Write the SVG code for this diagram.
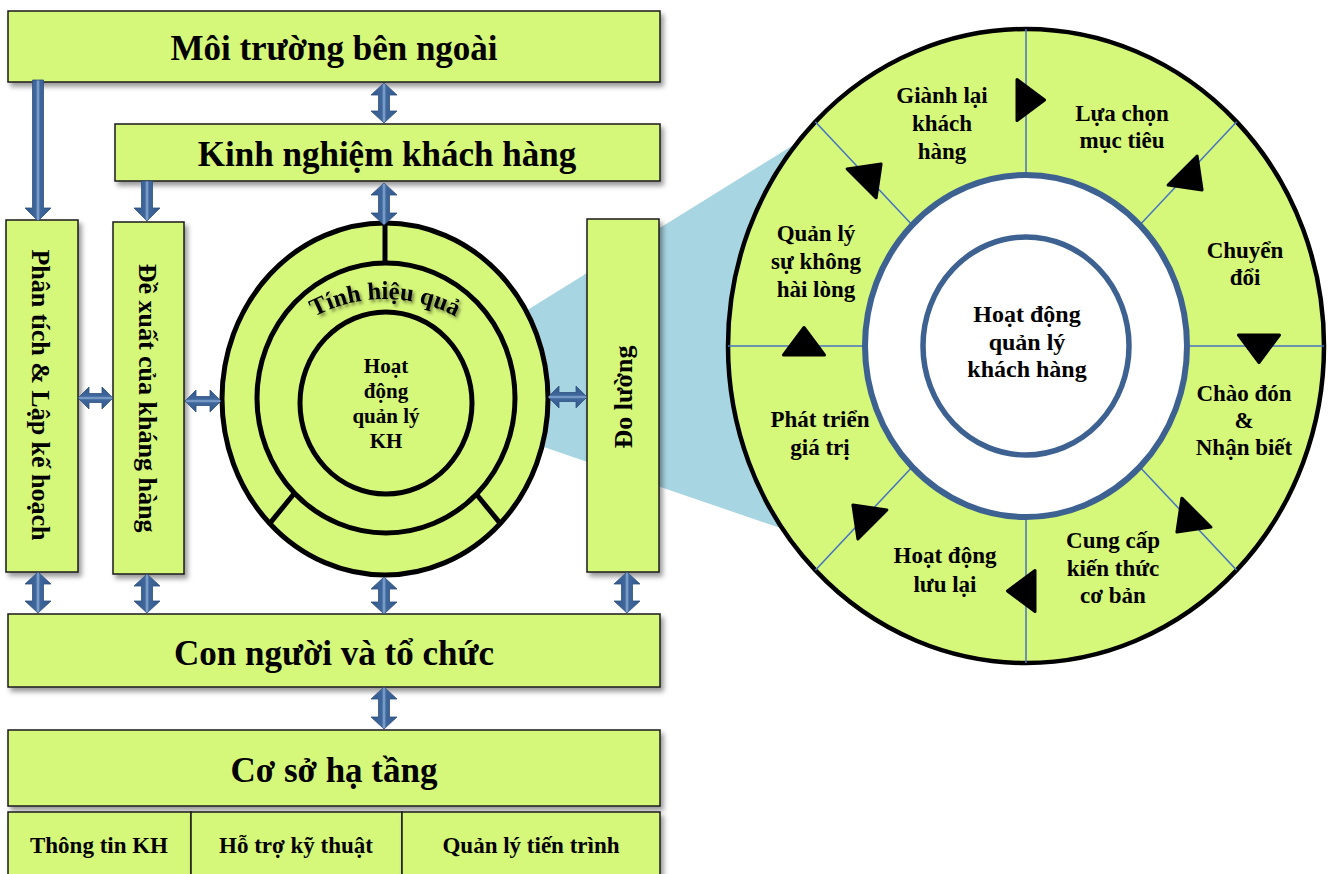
<svg xmlns="http://www.w3.org/2000/svg" xmlns:xlink="http://www.w3.org/1999/xlink" width="1331" height="874" viewBox="0 0 1331 874">
<defs>
<style>
.box{fill:#d5f77a;stroke:#1a1a1a;stroke-width:1.5;filter:url(#sh)}
.t{font-family:"Liberation Serif","Times New Roman",serif;font-weight:bold;fill:#000;text-anchor:middle}
.title{font-size:35px}
.vt{font-size:26px}
.lab{font-size:23px}
.cell{font-size:23px}
.ring{fill:#d5f77a;stroke:#000;stroke-width:5}
.div{stroke:#4472c4;stroke-width:1.5;fill:none}
.arrV{fill:url(#gV);stroke:#2e5082;stroke-width:0.8}
.arrH{fill:url(#gH);stroke:#2e5082;stroke-width:0.8}
.tri{fill:#000;stroke:#000;stroke-width:3;stroke-linejoin:round}
</style>
<filter id="sh" x="-10%" y="-10%" width="130%" height="130%">
<feDropShadow dx="3" dy="4" stdDeviation="2.5" flood-color="#000" flood-opacity="0.4"/>
</filter>
<filter id="tsh" x="-20%" y="-40%" width="140%" height="180%">
<feDropShadow dx="2" dy="2.5" stdDeviation="1.8" flood-color="#000" flood-opacity="0.45"/>
</filter>
<linearGradient id="gV" x1="0" y1="0" x2="1" y2="0">
<stop offset="0" stop-color="#34588a"/>
<stop offset="0.42" stop-color="#3f679c"/>
<stop offset="0.5" stop-color="#8aaad3"/>
<stop offset="0.58" stop-color="#3f679c"/>
<stop offset="1" stop-color="#34588a"/>
</linearGradient>
<linearGradient id="gH" x1="0" y1="0" x2="0" y2="1">
<stop offset="0" stop-color="#34588a"/>
<stop offset="0.42" stop-color="#3f679c"/>
<stop offset="0.5" stop-color="#8aaad3"/>
<stop offset="0.58" stop-color="#3f679c"/>
<stop offset="1" stop-color="#34588a"/>
</linearGradient>
<path id="tri" d="M-9,-20.5 L18.5,0 L-9,20.5 Z"/>
<path id="arcT" d="M234,450 A151,151 0 0 1 536,450"/>
</defs>

<rect width="1331" height="874" fill="#ffffff"/>

<!-- zoom wedge -->
<polygon points="500,327 850,110 850,552 500,432" fill="#a8d5e2"/>

<!-- Left concentric circle -->
<g id="node-circle">
<ellipse class="ring" cx="385" cy="399" rx="163" ry="176"/>
<line x1="385" y1="223" x2="385" y2="264" stroke="#000" stroke-width="5"/>
<line x1="269.8" y1="523.4" x2="293.8" y2="494" stroke="#000" stroke-width="5"/>
<line x1="500.2" y1="523.4" x2="476.2" y2="494" stroke="#000" stroke-width="5"/>
<ellipse class="ring" cx="386" cy="398" rx="129" ry="135"/>
<ellipse class="ring" cx="386" cy="403" rx="86" ry="91"/>
<text class="t" font-size="24.5" filter="url(#tsh)"><textPath href="#arcT" startOffset="50%">Tính hiệu quả</textPath></text>
<text class="t" font-size="21"><tspan x="386" y="373">Hoạt</tspan><tspan x="386" y="398">động</tspan><tspan x="386" y="423">quản lý</tspan><tspan x="386" y="448">KH</tspan></text>
</g>

<!-- Boxes -->
<g id="node-moi-truong">
<rect class="box" x="8" y="11" width="652" height="71"/>
<text class="t title" x="334" y="60">Môi trường bên ngoài</text>
</g>
<g id="node-kinh-nghiem">
<rect class="box" x="115" y="124" width="545" height="57"/>
<text class="t title" x="387" y="166">Kinh nghiệm khách hàng</text>
</g>
<g id="node-phan-tich">
<rect class="box" x="6" y="220" width="72" height="352"/>
<text class="t vt" transform="translate(41,395) rotate(90)" x="0" y="9">Phân tích &amp; Lập kế hoạch</text>
</g>
<g id="node-de-xuat">
<rect class="box" x="113" y="222" width="71" height="352"/>
<text class="t vt" transform="translate(148,398) rotate(90)" x="0" y="9">Đề xuất của kháng hàng</text>
</g>
<g id="node-do-luong">
<rect class="box" x="587" y="219" width="72" height="353"/>
<text class="t vt" transform="translate(623,397) rotate(-90)" x="0" y="9">Đo lường</text>
</g>
<g id="node-con-nguoi">
<rect class="box" x="8" y="614" width="652" height="73"/>
<text class="t title" x="334" y="665">Con người và tổ chức</text>
</g>
<g id="node-co-so">
<rect class="box" x="8" y="730" width="652" height="76"/>
<text class="t title" x="334" y="782">Cơ sở hạ tầng</text>
</g>
<g id="node-thong-tin">
<rect class="box" x="8" y="812" width="183" height="70"/>
<text class="t cell" x="99" y="853">Thông tin KH</text>
</g>
<g id="node-ho-tro">
<rect class="box" x="191" y="812" width="211" height="70"/>
<text class="t cell" x="296" y="853">Hỗ trợ kỹ thuật</text>
</g>
<g id="node-quan-ly-tien-trinh">
<rect class="box" x="402" y="812" width="258" height="70"/>
<text class="t cell" x="531" y="853">Quản lý tiến trình</text>
</g>

<!-- Big cycle ellipse -->
<g id="node-cycle">
<ellipse cx="1026" cy="346" rx="298" ry="317" fill="#d5f77a" stroke="#000" stroke-width="4.5"/>
<g class="div">
<line x1="1187" y1="346" x2="1324" y2="346"/>
<line x1="1139.8" y1="466.9" x2="1236.7" y2="570.2"/>
<line x1="1026" y1="517" x2="1026" y2="663"/>
<line x1="912.2" y1="466.9" x2="815.3" y2="570.2"/>
<line x1="865" y1="346" x2="728" y2="346"/>
<line x1="912.2" y1="225.1" x2="815.3" y2="121.8"/>
<line x1="1026" y1="175" x2="1026" y2="29"/>
<line x1="1139.8" y1="225.1" x2="1236.7" y2="121.8"/>
</g>
<ellipse cx="1026" cy="346" rx="161" ry="171" fill="#ffffff" stroke="#3d6191" stroke-width="6"/>
<ellipse cx="1026" cy="346" rx="103" ry="109" fill="#ffffff" stroke="#3d6191" stroke-width="5.5"/>
<text class="t" font-size="24"><tspan x="1027" y="322">Hoạt động</tspan><tspan x="1027" y="350">quản lý</tspan><tspan x="1027" y="377">khách hàng</tspan></text>
<g class="tri">
<use href="#tri" transform="translate(1026,100) rotate(0)"/>
<use href="#tri" transform="translate(1189,177) rotate(45)"/>
<use href="#tri" transform="translate(1259,344) rotate(90)"/>
<use href="#tri" transform="translate(1190,519) rotate(135)"/>
<use href="#tri" transform="translate(1026,591) rotate(180)"/>
<use href="#tri" transform="translate(866,518) rotate(225)"/>
<use href="#tri" transform="translate(804,346) rotate(270)"/>
<use href="#tri" transform="translate(868,177) rotate(315)"/>
</g>
<g class="t lab">
<text><tspan x="942" y="103">Giành lại</tspan><tspan x="942" y="131">khách</tspan><tspan x="942" y="159">hàng</tspan></text>
<text><tspan x="1122" y="121">Lựa chọn</tspan><tspan x="1122" y="148">mục tiêu</tspan></text>
<text><tspan x="1245" y="258">Chuyển</tspan><tspan x="1245" y="285">đổi</tspan></text>
<text><tspan x="1244" y="401">Chào đón</tspan><tspan x="1244" y="428">&amp;</tspan><tspan x="1244" y="455">Nhận biết</tspan></text>
<text><tspan x="1113" y="548">Cung cấp</tspan><tspan x="1113" y="576">kiến thức</tspan><tspan x="1113" y="603">cơ bản</tspan></text>
<text><tspan x="945" y="563">Hoạt động</tspan><tspan x="945" y="592">lưu lại</tspan></text>
<text><tspan x="820" y="427">Phát triển</tspan><tspan x="820" y="455">giá trị</tspan></text>
<text><tspan x="816" y="241">Quản lý</tspan><tspan x="816" y="269">sự không</tspan><tspan x="816" y="297">hài lòng</tspan></text>
</g>
</g>

<!-- Connectors -->
<g id="connectors">
<path class="arrV" d="M32.5,80 L43.5,80 L43.5,208 L51,208 L38,221 L25,208 L32.5,208 Z"/>
<path class="arrV" d="M141.5,181 L152.5,181 L152.5,208 L160,208 L147,221 L134,208 L141.5,208 Z"/>
<path class="arrV" d="M384,83 L397,95 L389.5,95 L389.5,111 L397,111 L384,123 L371,111 L378.5,111 L378.5,95 L371,95 Z"/>
<path class="arrV" d="M384,183 L397,195 L389.5,195 L389.5,213 L397,213 L384,225 L371,213 L378.5,213 L378.5,195 L371,195 Z"/>
<path class="arrV" d="M38,572 L51,584 L43.5,584 L43.5,601 L51,601 L38,613 L25,601 L32.5,601 L32.5,584 L25,584 Z"/>
<path class="arrV" d="M147,574 L160,586 L152.5,586 L152.5,601 L160,601 L147,613 L134,601 L141.5,601 L141.5,586 L134,586 Z"/>
<path class="arrV" d="M384,577 L397,589 L389.5,589 L389.5,602 L397,602 L384,614 L371,602 L378.5,602 L378.5,589 L371,589 Z"/>
<path class="arrV" d="M627,572 L640,584 L632.5,584 L632.5,601 L640,601 L627,613 L614,601 L621.5,601 L621.5,584 L614,584 Z"/>
<path class="arrV" d="M384,687 L397,699 L389.5,699 L389.5,717 L397,717 L384,729 L371,717 L378.5,717 L378.5,699 L371,699 Z"/>
<path class="arrH" d="M78,398 L89,387 L89,393.5 L102,393.5 L102,387 L113,398 L102,409 L102,402.5 L89,402.5 L89,409 Z"/>
<path class="arrH" d="M185,401 L196,390 L196,396.5 L210,396.5 L210,390 L221,401 L210,412 L210,405.5 L196,405.5 L196,412 Z"/>
<path class="arrH" d="M548,397 L559,386 L559,392.5 L576,392.5 L576,386 L587,397 L576,408 L576,401.5 L559,401.5 L559,408 Z"/>
</g>
</svg>
